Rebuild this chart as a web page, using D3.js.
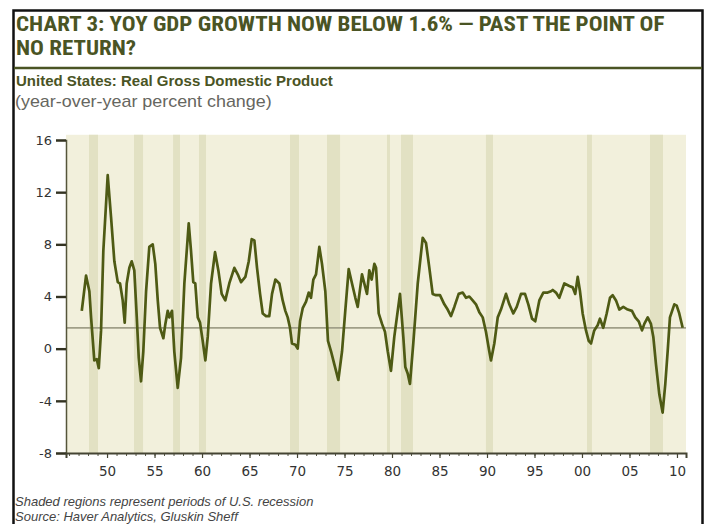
<!DOCTYPE html>
<html>
<head>
<meta charset="utf-8">
<script src="https://cdn.jsdelivr.net/npm/d3@7"></script>
<style>
  html, body { margin: 0; padding: 0; background: #ffffff; }
  svg { display: block; }
</style>
</head>
<body>
<script>
// ---- data ----
const years = [
  1947.34, 1947.79, 1948.14, 1948.32, 1948.66, 1948.92, 1949.13, 1949.37, 1949.61, 1950.07,
  1950.42, 1950.77, 1951.13, 1951.37, 1951.65, 1951.86, 1952.07, 1952.35, 1952.6, 1952.87,
  1953.13, 1953.34, 1953.58, 1953.82, 1954.11, 1954.45, 1954.81, 1955.08, 1955.34, 1955.58,
  1955.93, 1956.14, 1956.39, 1956.56, 1956.84, 1957.08, 1957.44, 1957.79, 1958.14, 1958.6,
  1958.84, 1959.08, 1959.29, 1959.55, 1959.79, 1960.07, 1960.35, 1960.6, 1960.95, 1961.37,
  1961.72, 1962.07, 1962.45, 1962.87, 1963.4, 1963.76, 1964.11, 1964.56, 1964.92, 1965.23,
  1965.51, 1965.79, 1966.11, 1966.39, 1966.74, 1967.08, 1967.37, 1967.72, 1968.14, 1968.49,
  1968.77, 1969.02, 1969.26, 1969.47, 1969.82, 1970.07, 1970.32, 1970.6, 1970.95, 1971.23,
  1971.47, 1971.72, 1972.0, 1972.35, 1972.63, 1972.98, 1973.26, 1973.58, 1973.93, 1974.35,
  1974.74, 1975.08, 1975.44, 1975.79, 1976.14, 1976.39, 1976.84, 1977.19, 1977.37, 1977.61,
  1977.86, 1978.14, 1978.32, 1978.6, 1978.95, 1979.26, 1979.55, 1979.89, 1980.24, 1980.84,
  1981.19, 1981.4, 1981.65, 1981.89, 1982.24, 1982.71, 1983.23, 1983.58, 1983.93, 1984.28,
  1984.63, 1985.05, 1985.51, 1985.86, 1986.21, 1986.56, 1987.02, 1987.44, 1987.79, 1988.14,
  1988.49, 1988.84, 1989.19, 1989.55, 1989.89, 1990.24, 1990.42, 1990.77, 1991.13, 1991.47,
  1992.0, 1992.35, 1992.77, 1993.13, 1993.58, 1994.0, 1994.35, 1994.74, 1995.08, 1995.51,
  1995.93, 1996.39, 1996.74, 1996.92, 1997.26, 1997.61, 1998.14, 1998.67, 1999.02, 1999.29,
  1999.55, 1999.79, 2000.07, 2000.42, 2000.71, 2000.95, 2001.29, 2001.65, 2001.89, 2002.24,
  2002.6, 2002.95, 2003.23, 2003.58, 2003.93, 2004.35, 2004.81, 2005.26, 2005.61, 2005.97,
  2006.32, 2006.56, 2006.92, 2007.26, 2007.51, 2007.79, 2008.14, 2008.49, 2008.77, 2009.02,
  2009.26, 2009.72, 2009.97, 2010.24, 2010.6
];
const gdpYoY = [
  2.9, 5.6, 4.4, 2.4, -0.9, -0.8, -1.5, 1.4, 7.5, 13.3,
  10.1, 6.7, 5.1, 5.0, 3.7, 2.0, 5.0, 6.2, 6.7, 6.0,
  2.4, -0.7, -2.5, -0.2, 4.4, 7.8, 8.0, 6.5, 3.7, 1.6,
  0.8, 1.9, 2.9, 2.4, 2.9, -0.2, -3.0, -0.7, 5.0, 9.6,
  7.5, 5.1, 5.0, 2.4, 2.0, 0.6, -0.9, 0.9, 5.0, 7.4,
  6.0, 4.2, 3.7, 5.0, 6.2, 5.7, 5.1, 5.5, 6.7, 8.4,
  8.3, 6.2, 4.2, 2.7, 2.5, 2.5, 4.2, 5.3, 5.0, 3.7,
  2.9, 2.4, 1.6, 0.4, 0.3, 0.0, 2.1, 3.1, 3.6, 4.3,
  3.9, 5.3, 5.7, 7.8, 6.5, 4.4, 0.6, -0.2, -1.2, -2.4,
  -0.2, 2.9, 6.1, 5.0, 3.9, 3.2, 5.7, 4.7, 4.2, 6.0,
  5.3, 6.5, 6.2, 2.7, 1.9, 1.3, -0.2, -1.7, 0.9, 4.2,
  0.9, -1.4, -1.9, -2.7, 0.4, 5.0, 8.5, 8.1, 6.2, 4.2,
  4.1, 4.1, 3.4, 3.0, 2.5, 3.2, 4.2, 4.3, 3.9, 4.0,
  3.7, 3.4, 2.8, 2.4, 1.3, -0.2, -0.9, 0.4, 2.4, 3.0,
  4.2, 3.4, 2.7, 3.2, 4.2, 4.2, 3.4, 2.3, 2.1, 3.7,
  4.3, 4.3, 4.4, 4.5, 4.3, 3.9, 5.0, 4.8, 4.7, 4.2,
  5.5, 4.4, 2.7, 1.4, 0.6, 0.4, 1.4, 1.8, 2.3, 1.6,
  2.7, 3.9, 4.1, 3.7, 3.0, 3.2, 3.0, 2.9, 2.4, 2.1,
  1.4, 1.9, 2.4, 1.9, 0.9, -1.2, -3.5, -4.9, -2.7, -0.2,
  2.4, 3.4, 3.3, 2.7, 1.6
];
const recessionStart = [1948.1, 1952.84, 1956.95, 1959.68, 1969.26, 1973.16, 1979.47, 1980.95, 1989.89, 2000.53, 2007.16];
const recessionEnd   = [1949.05, 1953.79, 1957.68, 1960.42, 1970.21, 1974.53, 1979.79, 1982.21, 1990.63, 2001.05, 2008.53];
const referenceLevel = 1.6;
const yTicks = [-8, -4, 0, 4, 8, 12, 16];
const xTickYears = [1950, 1955, 1960, 1965, 1970, 1975, 1980, 1985, 1990, 1995, 2000, 2005, 2010];
const xTickLabels = ["50", "55", "60", "65", "70", "75", "80", "85", "90", "95", "00", "05", "10"];
const titleLines = ["CHART 3: YOY GDP GROWTH NOW BELOW 1.6% \u2014 PAST THE POINT OF", "NO RETURN?"];
const subtitle = "United States: Real Gross Domestic Product";
const subsubtitle = "(year-over-year percent change)";
const footnotes = ["Shaded regions represent periods of U.S. recession", "Source: Haver Analytics, Gluskin Sheff"];

// ---- drawing ----
const W = 712, H = 524;
const svg = d3.select("body").append("svg").attr("width", W).attr("height", H);

const plot = { left: 66, right: 686, top: 140, bottom: 453 };
const x = d3.scaleLinear().domain([1945.68, 2010.95]).range([plot.left, plot.right]);
const y = d3.scaleLinear().domain([-8, 16]).range([plot.bottom, plot.top]);

// outer frame
svg.append("rect").attr("x", 0).attr("y", 0).attr("width", W).attr("height", H).attr("fill", "#ffffff");
svg.append("rect").attr("x", 13.5).attr("y", 10.5).attr("width", 689).attr("height", 530)
  .attr("fill", "#ffffff").attr("stroke", "#111111").attr("stroke-width", 2.5);

// title (condensed bold, stretched slightly to the reference width)
const title = svg.append("g").attr("transform", "translate(16,0) scale(1.095,1)")
  .append("text")
  .attr("font-family", "'Liberation Sans Narrow', 'Arial Narrow', 'Roboto Condensed', sans-serif")
  .attr("font-weight", "bold").attr("font-size", 21).attr("fill", "#4a5424");
title.selectAll("tspan").data(titleLines).join("tspan")
  .attr("x", 0).attr("y", (d, i) => 31 + i * 24).text(d => d);

// rule under title
svg.append("line").attr("x1", 14).attr("x2", 702).attr("y1", 68).attr("y2", 68)
  .attr("stroke", "#4a5424").attr("stroke-width", 2.5);

svg.append("text").attr("x", 16).attr("y", 86)
  .attr("font-family", "'Liberation Sans Narrow', 'Arial Narrow', sans-serif")
  .attr("font-weight", "bold").attr("font-size", 15).attr("fill", "#4a5424").text(subtitle);
svg.append("g").attr("transform", "translate(15,107) scale(1.12,1)")
  .append("text").attr("x", 0).attr("y", 0)
  .attr("font-family", "'Liberation Sans', Arial, sans-serif")
  .attr("font-size", 16).attr("fill", "#666660").text(subsubtitle);

// plot background
svg.append("rect").attr("x", plot.left).attr("y", y(16.4))
  .attr("width", plot.right - plot.left).attr("height", plot.bottom - y(16.4))
  .attr("fill", "#f2f0dc");

// recession shading
svg.append("g").selectAll("rect").data(recessionStart).join("rect")
  .attr("x", (d) => x(d))
  .attr("width", (d, i) => x(recessionEnd[i]) - x(d))
  .attr("y", y(16.4)).attr("height", plot.bottom - y(16.4))
  .attr("fill", "#e2e1c3");

// reference line at 1.6
svg.append("line").attr("x1", plot.left).attr("x2", plot.right)
  .attr("y1", y(referenceLevel)).attr("y2", y(referenceLevel))
  .attr("stroke", "#a09f88").attr("stroke-width", 1.8);

// data line
const pts = years.map((t, i) => [t, gdpYoY[i]]);
const line = d3.line().x(d => x(d[0])).y(d => y(d[1]));
svg.append("path").datum(pts).attr("d", line)
  .attr("fill", "none").attr("stroke", "#4e5a14").attr("stroke-width", 2.7)
  .attr("stroke-linejoin", "round");

// y axis
const yAxis = d3.axisLeft(y).tickValues(yTicks).tickSize(10).tickPadding(4)
  .tickFormat(d => String(d));
const gy = svg.append("g").attr("transform", `translate(${plot.left},0)`).call(yAxis);
gy.select(".domain").attr("stroke", "#55553a").attr("stroke-width", 1.5);
gy.selectAll(".tick line").attr("stroke", "#333322").attr("stroke-width", 2.4);
gy.selectAll(".tick text").attr("font-family", "'DejaVu Sans', Verdana, sans-serif")
  .attr("font-size", 13).attr("fill", "#333333");

// x axis: minor yearly ticks
const minorYears = d3.range(1946, 2011);
const xMinor = d3.axisBottom(x).tickValues(minorYears).tickSize(3).tickFormat("");
const gxm = svg.append("g").attr("transform", `translate(0,${plot.bottom})`).call(xMinor);
gxm.select(".domain").remove();
gxm.selectAll(".tick line").attr("stroke", "#555544").attr("stroke-width", 1);

const xAxis = d3.axisBottom(x).tickValues(xTickYears).tickSize(5).tickPadding(8)
  .tickFormat((d, i) => xTickLabels[i]);
const gx = svg.append("g").attr("transform", `translate(0,${plot.bottom})`).call(xAxis);
gx.select(".domain").attr("stroke", "#444433").attr("stroke-width", 2);
gx.selectAll(".tick line").attr("stroke", "#444433").attr("stroke-width", 1.2);
gx.selectAll(".tick text").attr("font-family", "'DejaVu Sans', Verdana, sans-serif")
  .attr("font-size", 13.5).attr("fill", "#333333");

// footnotes
svg.append("g").selectAll("text").data(footnotes).join("text")
  .attr("x", 15).attr("y", (d, i) => 506 + i * 15)
  .attr("font-family", "'Liberation Sans', Arial, sans-serif")
  .attr("font-style", "italic").attr("font-size", 13).attr("fill", "#444444")
  .text(d => d);
</script>
</body>
</html>
